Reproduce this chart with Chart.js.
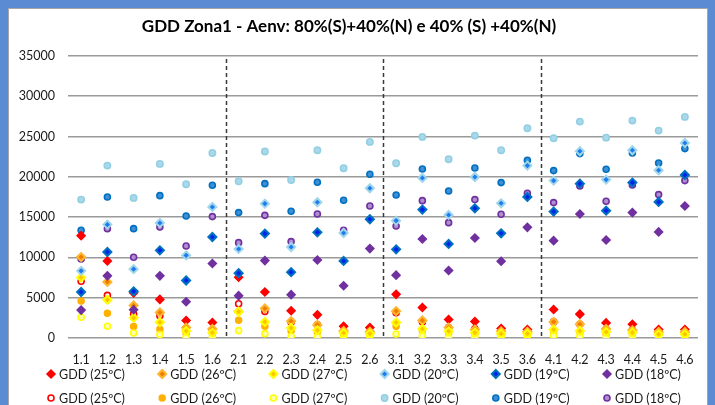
<!DOCTYPE html>
<html>
<head>
<meta charset="utf-8">
<script src="https://cdn.jsdelivr.net/npm/chart.js@4.4.1/dist/chart.umd.min.js"></script>
<style>
  html, body { margin: 0; padding: 0; }
  body { width: 715px; height: 405px; background: #5b8bd2; position: relative; overflow: hidden; }
  #panel { position: absolute; left: 8px; top: 8px; width: 698px; height: 420px; background: #fff; border: 1px solid #a6a6a6; }
  #c { position: absolute; left: 0; top: 0; }
</style>
</head>
<body>
<div id="panel"></div>
<canvas id="c" width="715" height="405"></canvas>
<script>
const categories = ['1.1','1.2','1.3','1.4','1.5','1.6','2.1','2.2','2.3','2.4','2.5','2.6',
                    '3.1','3.2','3.3','3.4','3.5','3.6','4.1','4.2','4.3','4.4','4.5','4.6'];
const yTicks = [0, 5000, 10000, 15000, 20000, 25000, 30000, 35000];
const chartTitle = 'GDD Zona1 - Aenv: 80%(S)+40%(N) e 40% (S) +40%(N)';
const seriesLabels = ['GDD (25ºC)','GDD (26ºC)','GDD (27ºC)','GDD (20ºC)','GDD (19ºC)','GDD (18ºC)',
                      'GDD (25ºC)','GDD (26ºC)','GDD (27ºC)','GDD (20ºC)','GDD (19ºC)','GDD (18ºC)'];

// Diamond series (80%(S)+40%(N))
const gdd25D = [12700,9560,5600,4790,2170,1920, 7540,5710,3375,2875,1460,1290, 5420,3790,2290,2040,1170,1040, 3540,2960,1875,1710,1040,1040];
const gdd26D = [10040,6960,4040,3170,1290,1125, 3300,3670,2080,1625,875,790, 3330,2170,1290,1040,830,790, 2000,1710,1125,960,750,750];
const gdd27D = [7500,4750,2500,1960,875,670, 3250,2000,1250,960,625,540, 1920,1125,830,670,540,540, 1040,875,750,670,460,460];
const gdd20D = [8330,14070,8540,14270,10250,16260, 11050,16670,11290,16840,13030,18580, 14560,19860,15270,19980,16710,21390, 19530,23170,19650,23290,20810,24200];
const gdd19D = [5710,10670,5790,10875,7130,12530, 8040,12950,8170,13110,9560,14730, 11000,15930,11670,16090,12990,17500, 15680,19150,15800,19280,16880,20230];
const gdd18D = [3460,7710,3500,7710,4500,9250, 5250,9600,5375,9680,6480,11090, 7800,12290,8375,12410,9520,13730, 12080,15390,12160,15560,13160,16380];

// Circle series (40%(S)+40%(N))
const gdd25C = [7040,5290,2960,2750,1200,1000, 4250,3300,1950,1650,850,750, 3125,2000,1300,1150,700,620, 2000,1700,1080,990,620,620];
const gdd26C = [4580,3080,1420,1080,570,500, 2210,1460,875,750,380,350, 1460,960,560,460,370,350, 880,750,500,420,330,330];
const gdd27C = [2580,1460,625,420,100,20, 920,540,210,125,0,0, 500,290,125,80,0,0, 290,210,40,40,0,0];
const gdd20C = [17170,21390,17380,21600,19070,22960, 19440,23130,19610,23290,21060,24330, 21680,24950,22170,25110,23290,26020, 24780,26850,24860,26970,25730,27430];
const gdd19C = [13360,17500,13570,17660,15140,18950, 15560,19150,15720,19320,17090,20310, 17750,20970,18240,21100,19280,22050, 20770,22880,20930,22960,21720,23500];
const gdd18C = [9800,13570,10010,13780,11420,15060, 11830,15220,11960,15390,13360,16380, 13900,17040,14310,17170,15350,17950, 16800,18860,16960,18990,17790,19530];

const seriesData = [gdd25D, gdd26D, gdd27D, gdd20D, gdd19D, gdd18D, gdd25C, gdd26C, gdd27C, gdd20C, gdd19C, gdd18C];

// styles: [border, fill, pointStyle, radius, borderWidth]
const styles = [
  ['#ff0000', '#ff0000', 'rectRot', 4, 1.5],
  ['#ffb52e', '#f07c00', 'rectRot', 4, 2],
  ['#ffff00', '#ffc400', 'rectRot', 4, 2],
  ['#9fd6ea', '#1e7cf0', 'rectRot', 4, 2],
  ['#0070c0', '#0022ee', 'rectRot', 4, 2],
  ['#7030a0', '#7030a0', 'rectRot', 4, 1.5],
  ['#ff0000', '#ffffff', 'circle', 3, 1.6],
  ['#ffb000', '#ffb000', 'circle', 3, 1.5],
  ['#ffff00', '#ffffb0', 'circle', 3, 1.6],
  ['#93cfe3', '#a8d8ea', 'circle', 3.2, 1.5],
  ['#0070c0', '#3f8fd6', 'circle', 3, 1.6],
  ['#7030a0', '#b08fcf', 'circle', 3, 1.6]
];

// draw order: circles first (bottom), then diamonds, later diamonds on top
const drawOrder = [6,5,4,3,2,1, 12,11,10,9,8,7];

const datasets = seriesData.map((d, i) => ({
  label: seriesLabels[i],
  data: d,
  showLine: false,
  borderColor: styles[i][0],
  backgroundColor: styles[i][1],
  pointStyle: styles[i][2],
  pointRadius: styles[i][3],
  pointBorderWidth: styles[i][4],
  pointBorderColor: styles[i][0],
  pointBackgroundColor: styles[i][1],
  order: drawOrder[i]
}));

Chart.defaults.font.family = 'Lato, "Liberation Sans", sans-serif';
Chart.defaults.color = '#1a1a1a';

const groupLines = {
  id: 'groupLines',
  beforeDatasetsDraw(chart) {
    const x = chart.scales.x, area = chart.chartArea, ctx = chart.ctx;
    ctx.save();
    ctx.strokeStyle = '#3a3a3a';
    ctx.lineWidth = 1.5;
    ctx.setLineDash([4, 3]);
    for (let i = 0; i < categories.length - 1; i++) {
      if (categories[i].split('.')[0] !== categories[i + 1].split('.')[0]) {
        const px = Math.round((x.getPixelForValue(i) + x.getPixelForValue(i + 1)) / 2) + 0.5;
        ctx.beginPath();
        ctx.moveTo(px, area.top + 3);
        ctx.lineTo(px, area.bottom);
        ctx.stroke();
      }
    }
    ctx.restore();
  }
};

const customLegend = {
  id: 'customLegend',
  afterDraw(chart) {
    const ctx = chart.ctx;
    const perRow = 6, x0 = 51, dx = 111.2, rowsY = [374, 398];
    ctx.save();
    ctx.font = '12.5px ' + Chart.defaults.font.family;
    ctx.textBaseline = 'middle';
    ctx.textAlign = 'left';
    chart.data.datasets.forEach((ds, i) => {
      const col = i % perRow, row = Math.floor(i / perRow);
      const mx = x0 + col * dx, my = rowsY[row];
      ctx.fillStyle = ds.pointBackgroundColor;
      ctx.strokeStyle = ds.pointBorderColor;
      ctx.lineWidth = ds.pointBorderWidth;
      Chart.helpers.drawPoint(ctx, {pointStyle: ds.pointStyle, radius: ds.pointRadius, rotation: 0, borderWidth: ds.pointBorderWidth}, mx, my);
      ctx.fillStyle = '#1a1a1a';
      ctx.fillText(ds.label, mx + 8, my + 1);
    });
    ctx.restore();
  }
};

new Chart(document.getElementById('c'), {
  type: 'line',
  data: { labels: categories, datasets },
  options: {
    responsive: false,
    animation: false,
    devicePixelRatio: 1,
    layout: { padding: { left: 0, right: 17, top: 0, bottom: 37 } },
    plugins: {
      legend: { display: false },
      tooltip: { enabled: false },
      title: {
        display: true,
        text: chartTitle,
        color: '#000',
        font: { size: 17, weight: 'bold' },
        padding: { top: 16, bottom: 19.5 }
      }
    },
    scales: {
      x: {
        type: 'category',
        offset: true,
        grid: { display: false, drawTicks: false },
        border: { display: false },
        ticks: { padding: 14, font: { size: 12.5 }, color: '#1a1a1a', maxRotation: 0, autoSkip: false },
        afterFit(s) { s.height = 30; }
      },
      y: {
        min: yTicks[0],
        max: yTicks[yTicks.length - 1],
        afterBuildTicks(s) { s.ticks = yTicks.map(v => ({ value: v })); },
        grid: { color: '#9a9a9a', lineWidth: 1.6, drawTicks: false },
        border: { display: false },
        ticks: { padding: 13, font: { size: 12.5 }, color: '#1a1a1a', callback: v => String(v) },
        afterFit(s) { s.width = 68; }
      }
    }
  },
  plugins: [groupLines, customLegend]
});
</script>
</body>
</html>
